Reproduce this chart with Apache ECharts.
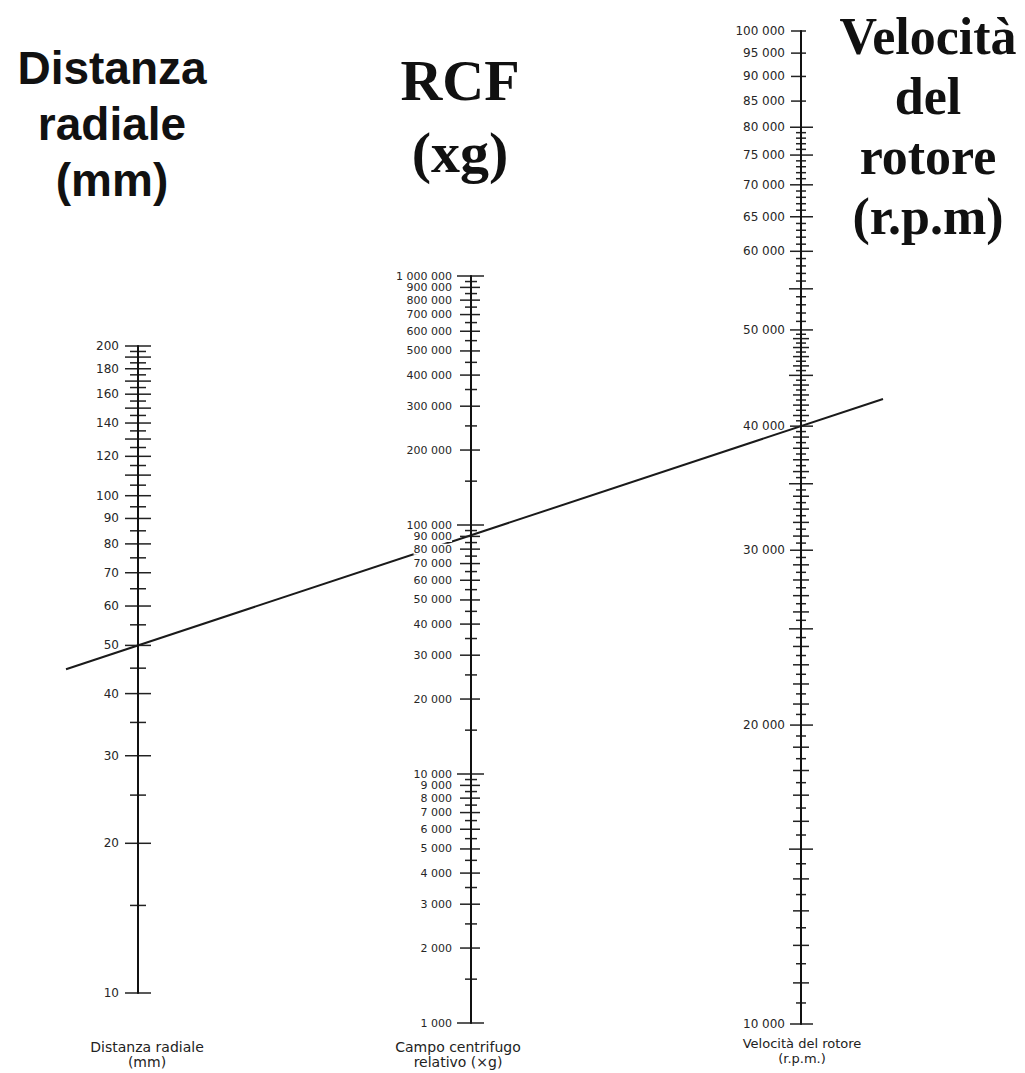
<!DOCTYPE html>
<html>
<head>
<meta charset="utf-8">
<style>
  html, body { margin: 0; padding: 0; background: #fff; }
  #chart { width: 1025px; height: 1073px; }
</style>
<script src="https://cdn.jsdelivr.net/npm/echarts@6/dist/echarts.min.js"></script>
</head>
<body>
<div id="chart"></div>
<script>
// Distanza radiale (mm)
const distLabels = [10, 20, 30, 40, 50, 60, 70, 80, 90, 100, 120, 140, 160, 180, 200]
const distLong = [110, 130, 150, 170, 190]
const distShort = [15, 25, 35, 45, 55, 65, 75, 85, 95, 105, 115, 125, 135, 145, 155, 165, 175, 185, 195]

// Campo centrifugo relativo (xg)
const rcfDecades = [1000, 10000, 100000, 1000000]
const rcfLabels = [1000, 2000, 3000, 4000, 5000, 6000, 7000, 8000, 9000,
  10000, 20000, 30000, 40000, 50000, 60000, 70000, 80000, 90000,
  100000, 200000, 300000, 400000, 500000, 600000, 700000, 800000, 900000, 1000000]
const rcfShort = [1500, 2500, 3500, 4500, 5500, 6500, 7500, 8500, 9500,
  15000, 25000, 35000, 45000, 55000, 65000, 75000, 85000, 95000,
  150000, 250000, 350000, 450000, 550000, 650000, 750000, 850000, 950000]

// Velocità del rotore (r.p.m.)
const rpmLabels = [10000, 20000, 30000, 40000, 50000, 60000, 65000, 70000, 75000, 80000, 85000, 90000, 95000, 100000]
const rpmLong = [15000, 25000, 35000, 45000, 55000]
const rpmMid = [11000, 12000, 13000, 14000, 16000, 17000, 18000, 19000,
  21000, 22000, 23000, 24000, 26000, 27000, 28000, 29000,
  31000, 32000, 33000, 34000, 36000, 37000, 38000, 39000,
  41000, 42000, 43000, 44000, 46000, 47000, 48000, 49000]
const rpmShort = [10500, 11500, 12500, 13500, 14500, 15500, 16500, 17500, 18500, 19500,
  20500, 21500, 22500, 23500, 24500, 25500, 26500, 27500, 28500, 29500,
  30500, 31500, 32500, 33500, 34500, 35500, 36500, 37500, 38500, 39500,
  40500, 41500, 42500, 43500, 44500, 45500, 46500, 47500, 48500, 49500,
  51000, 52000, 53000, 54000, 56000, 57000, 58000, 59000,
  61000, 62000, 63000, 64000, 66000, 67000, 68000, 69000,
  71000, 72000, 73000, 74000, 76000, 77000, 78000, 79000]

// esempio tracciato: raggio 50 mm, 40 000 giri/min
const exRadius = 50
const exRpm = 40000

const migliaia = v => String(Math.round(v)).replace(/\B(?=(\d{3})+(?!\d))/g, ' ')

function scala(idx, min, max, labels, margin, size, bg) {
  return {
    type: 'log',
    logBase: 10,
    gridIndex: idx,
    min: min,
    max: max,
    position: 'left',
    z: 5,
    axisLine: { show: true, lineStyle: { color: '#111', width: 2 } },
    axisTick: { show: false },
    splitLine: { show: false },
    axisLabel: {
      customValues: labels,
      hideOverlap: false,
      showMinLabel: true,
      showMaxLabel: true,
      margin: margin,
      formatter: migliaia,
      color: '#262626',
      fontFamily: 'DejaVu Sans',
      fontSize: size,
      lineHeight: size,
      backgroundColor: bg ? '#fff' : 'transparent',
      padding: 0
    }
  }
}

function tacche(idx, values, left, right) {
  return {
    type: 'custom',
    xAxisIndex: idx,
    yAxisIndex: idx,
    z: 4,
    silent: true,
    clip: false,
    data: values.map(v => [0, v]),
    renderItem: function (params, api) {
      const p = api.coord([api.value(0), api.value(1)])
      return {
        type: 'line',
        shape: { x1: p[0] - left, y1: p[1], x2: p[0] + right, y2: p[1] },
        style: { stroke: '#222', lineWidth: 1.5 }
      }
    }
  }
}

const titoli = [
  {
    id: 't1', type: 'text', x: 112, y: 40,
    style: { text: 'Distanza\nradiale\n(mm)', align: 'center', verticalAlign: 'top', lineHeight: 56,
      fontSize: 46, fontWeight: 'bold', fontFamily: 'Liberation Sans', fill: '#111' }
  },
  {
    id: 't2', type: 'text', x: 460, y: 44,
    style: { text: 'RCF\n(xg)', align: 'center', verticalAlign: 'top', lineHeight: 72,
      fontSize: 58, fontWeight: 'bold', fontFamily: 'Liberation Serif', fill: '#111' }
  },
  {
    id: 't3', type: 'text', x: 928, y: 6,
    style: { text: 'Velocità\ndel\nrotore\n(r.p.m)', align: 'center', verticalAlign: 'top', lineHeight: 60,
      fontSize: 52, fontWeight: 'bold', fontFamily: 'Liberation Serif', fill: '#111' }
  },
  {
    id: 'c1', type: 'text', x: 147, y: 1039,
    style: { text: 'Distanza radiale\n(mm)', align: 'center', verticalAlign: 'top', lineHeight: 15,
      fontSize: 14, fontFamily: 'DejaVu Sans', fill: '#222' }
  },
  {
    id: 'c2', type: 'text', x: 458, y: 1039,
    style: { text: 'Campo centrifugo\nrelativo (×g)', align: 'center', verticalAlign: 'top', lineHeight: 15,
      fontSize: 14, fontFamily: 'DejaVu Sans', fill: '#222' }
  },
  {
    id: 'c3', type: 'text', x: 802, y: 1036,
    style: { text: 'Velocità del rotore\n(r.p.m.)', align: 'center', verticalAlign: 'top', lineHeight: 15,
      fontSize: 13, fontFamily: 'DejaVu Sans', fill: '#222' }
  }
]

const myChart = echarts.init(document.getElementById('chart'), null, { renderer: 'svg' })

myChart.setOption({
  backgroundColor: '#fff',
  animation: false,
  grid: [
    { left: 138, top: 346, width: 10, height: 647, outerBoundsMode: 'none' },
    { left: 471, top: 276, width: 10, height: 747, outerBoundsMode: 'none' },
    { left: 801, top: 31, width: 10, height: 993, outerBoundsMode: 'none' }
  ],
  xAxis: [0, 1, 2].map(i => ({ gridIndex: i, type: 'value', min: 0, max: 1, show: false })),
  yAxis: [
    scala(0, 10, 200, distLabels, 19, 12, false),
    scala(1, 1000, 1000000, rcfLabels, 19, 11, true),
    scala(2, 10000, 100000, rpmLabels, 16, 12, false)
  ],
  series: [
    tacche(0, distLabels, 13, 13),
    tacche(0, distLong, 13, 13),
    tacche(0, distShort, 8, 8),
    tacche(1, rcfDecades, 14, 13),
    tacche(1, rcfLabels.filter(v => rcfDecades.indexOf(v) < 0), 11, 9),
    tacche(1, rcfShort, 6, 6),
    tacche(2, rpmLabels.filter(v => v <= 80000), 11, 12),
    tacche(2, rpmLabels.filter(v => v > 80000), 10, 5),
    tacche(2, rpmLong, 12, 12),
    tacche(2, rpmMid, 8, 8),
    tacche(2, rpmShort, 5, 5)
  ],
  graphic: { elements: titoli }
})

// retta dell'esempio: passa per il raggio e la velocità scelti
const pL = myChart.convertToPixel({ gridIndex: 0 }, [0, exRadius])
const pR = myChart.convertToPixel({ gridIndex: 2 }, [0, exRpm])
const k = (pR[1] - pL[1]) / (pR[0] - pL[0])
const xa = 66
const xb = 883
myChart.setOption({
  graphic: {
    elements: titoli.concat([{
      id: 'linea', type: 'line', z: 3, silent: true,
      shape: { x1: xa, y1: pL[1] + k * (xa - pL[0]), x2: xb, y2: pL[1] + k * (xb - pL[0]) },
      style: { stroke: '#1a1a1a', lineWidth: 2 }
    }])
  }
})

window.addEventListener('resize', () => {
  myChart.resize()
})
</script>
</body>
</html>
